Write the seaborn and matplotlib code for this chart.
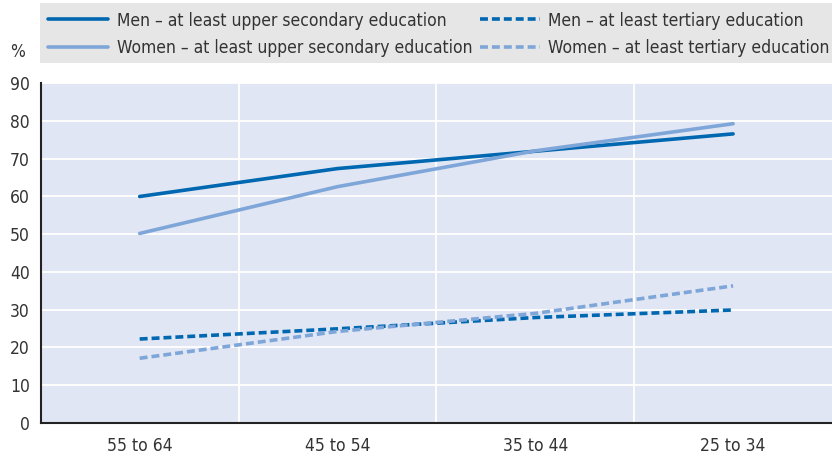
import pandas as pd
import numpy as np
import matplotlib.pyplot as plt
import seaborn as sns

# Dados
grupos = ['55 to 64', '45 to 54', '35 to 44', '25 to 34']
homens_sec = [60.0, 67.4, 72.0, 76.6]
mulheres_sec = [50.2, 62.6, 72.1, 79.3]
homens_ter = [22.2, 24.9, 27.9, 29.9]
mulheres_ter = [17.1, 24.2, 29.0, 36.3]
series = [
    ('Men – at least upper secondary education', homens_sec),
    ('Women – at least upper secondary education', mulheres_sec),
    ('Men – at least tertiary education', homens_ter),
    ('Women – at least tertiary education', mulheres_ter),
]

df = pd.DataFrame([
    {'Grupo': g, 'Serie': nome, 'Valor': v}
    for nome, vals in series for g, v in zip(grupos, vals)
])

sns.set_style('white')
plt.rcParams['font.family'] = ['Liberation Sans Narrow', 'DejaVu Sans']
plt.rcParams['font.stretch'] = 'condensed'

escuro = '#0067B1'
claro = '#7FA6D8'
cores = {series[0][0]: escuro, series[1][0]: claro,
         series[2][0]: escuro, series[3][0]: claro}
estilos = {series[0][0]: '', series[1][0]: '',
           series[2][0]: (2.2, 1.1), series[3][0]: (2.2, 1.1)}

fig = plt.figure(figsize=(8.32, 4.58), dpi=100)
ax = fig.add_axes([0.049, 0.077, 0.951, 0.741])
ax.set_facecolor('#E1E6F4')

sns.lineplot(data=df, x='Grupo', y='Valor', hue='Serie', style='Serie',
             palette=cores, dashes=estilos, linewidth=2.6, sort=False,
             legend=False, ax=ax)

ax.set_xlim(-0.5, 3.5)
ax.set_ylim(0, 90)
ax.set_yticks(range(0, 91, 10))
ax.set_xticks([0.5, 1.5, 2.5], minor=False)
ax.set_xticklabels([])
ax.set_xticks(range(4), minor=True)
ax.set_xticklabels(grupos, minor=True)
ax.tick_params(axis='x', which='major', length=6, direction='in', color='#333333', width=1)
ax.tick_params(axis='x', which='minor', length=0, labelsize=12.5, pad=10, colors='#333333')
ax.tick_params(axis='y', length=6, direction='in', color='#333333', labelsize=12.5, colors='#333333', pad=8)
ax.grid(True, which='major', color='white', linewidth=1.3)
ax.set_axisbelow(True)
ax.set_xlabel('')
ax.set_ylabel('')
for s in ['top', 'right']:
    ax.spines[s].set_visible(False)
for s in ['left', 'bottom']:
    ax.spines[s].set_color('#222222')
    ax.spines[s].set_linewidth(1.5)

fig.text(0.012, 0.875, '%', fontsize=12.5, color='#333333')

# Fundo da legenda
fig.patches.append(plt.Rectangle((0.048, 0.862), 0.952, 0.131, transform=fig.transFigure,
                                 facecolor='#E6E6E6', edgecolor='none', zorder=0))

# Legenda
handles = [plt.Line2D([], [], color=cores[n], linewidth=2.6,
                      dashes=estilos[n] if estilos[n] else (None, None),
                      linestyle='--' if estilos[n] else '-')
           for n, _ in series]
leg = fig.legend(handles, [n for n, _ in series], ncol=2, loc='center left',
                 bbox_to_anchor=(0.0577, 0.925), frameon=False, fontsize=12.5,
                 handlelength=3.45, columnspacing=0.45, handletextpad=0.5,
                 labelspacing=0.55, borderaxespad=0, borderpad=0)
for t in leg.get_texts():
    t.set_color('#333333')

plt.savefig('out.png', dpi=100)
